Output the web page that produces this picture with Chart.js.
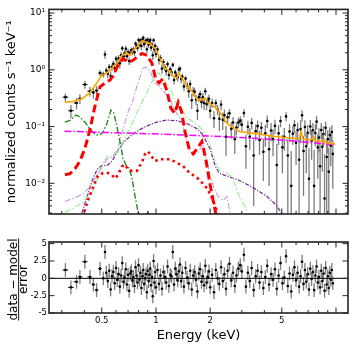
<!DOCTYPE html>
<html>
<head>
<meta charset="utf-8">
<script src="https://cdn.jsdelivr.net/npm/chart.js@4.4.1/dist/chart.umd.min.js"></script>
<style>
  html, body { margin: 0; padding: 0; background: #fff; }
  #wrap { position: relative; width: 355px; height: 351px; }
  #spec { position: absolute; left: 0; top: 0; }
  #resid { position: absolute; left: 0; top: 230px; }
</style>
</head>
<body>
<div id="wrap">
  <canvas id="spec" width="355" height="230"></canvas>
  <canvas id="resid" width="355" height="121"></canvas>
</div>
<script>
// observed spectrum (keV, counts/s/keV, 1-sigma) and residuals in sigma
const dataE = [0.314, 0.337, 0.362, 0.378, 0.403, 0.430, 0.449, 0.468, 0.489, 0.510, 0.521,
  0.53, 0.54, 0.55, 0.56, 0.57, 0.58, 0.59, 0.60, 0.61, 0.62, 0.63, 0.64, 0.65, 0.66, 0.67, 0.68,
  0.69, 0.70, 0.71, 0.72, 0.73, 0.74, 0.75, 0.76, 0.77, 0.78, 0.79, 0.80, 0.81, 0.82, 0.83, 0.84,
  0.85, 0.86, 0.87, 0.88, 0.89, 0.90, 0.91, 0.92, 0.93, 0.94, 0.95, 0.96, 0.97, 0.98, 0.99, 1.00,
  1.02, 1.04, 1.06, 1.08, 1.10, 1.12, 1.14, 1.16, 1.18, 1.20, 1.22, 1.24, 1.26, 1.28, 1.30, 1.32,
  1.34, 1.36, 1.38, 1.40, 1.43, 1.46, 1.49, 1.52, 1.55, 1.58, 1.61, 1.64, 1.67, 1.70, 1.73, 1.76,
  1.79, 1.82, 1.85, 1.88, 1.91, 1.94, 1.97, 2.00, 2.05, 2.10, 2.15, 2.20, 2.25, 2.30, 2.35, 2.40,
  2.45, 2.50, 2.56, 2.62, 2.68, 2.74, 2.80, 2.87, 2.94,
  3.00, 3.08, 3.16, 3.24, 3.32, 3.40, 3.49, 3.58, 3.67, 3.76, 3.85, 3.95, 4.05, 4.15, 4.25, 4.36,
  4.47, 4.58, 4.69, 4.80, 4.92, 5.04, 5.16, 5.28, 5.40, 5.52, 5.64, 5.76, 5.88, 6.00, 6.12, 6.24,
  6.36, 6.48, 6.60, 6.72, 6.84, 6.96, 7.08, 7.20, 7.32, 7.44, 7.56, 7.68, 7.80, 7.92, 8.04, 8.16,
  8.28, 8.40, 8.52, 8.64, 8.76, 8.88, 9.00, 9.12, 9.24, 9.36, 9.48, 9.60];
const dataV = [0.33, 0.19, 0.26, 0.31, 0.55, 0.42, 0.40, 0.43, 0.88, 0.83, 1.86,
  0.97, 0.85, 1.12, 0.78, 1.12, 1.28, 1.07, 1.56, 1.30, 1.59, 1.30, 1.81, 2.39, 1.72, 1.95, 2.35,
  1.73, 2.06, 1.43, 1.97, 2.22, 2.07, 2.30, 2.03, 2.90, 2.64, 2.42, 3.34, 2.80, 3.29, 2.62, 3.37,
  3.66, 2.83, 3.10, 3.28, 2.30, 3.37, 2.80, 3.08, 3.36, 2.46, 2.76, 1.80, 3.32, 2.29, 2.64, 1.90,
  2.30, 1.50, 1.61, 1.05, 1.37, 1.11, 0.95, 1.26, 0.81, 1.02, 0.90, 1.22, 0.66, 0.90, 0.78, 0.74,
  1.01, 1.04, 0.69, 0.76, 0.51, 0.70, 0.53, 0.42, 0.56, 0.29, 0.42, 0.41, 0.30, 0.19, 0.33, 0.37,
  0.27, 0.33, 0.26, 0.42, 0.25, 0.28, 0.31, 0.19, 0.26, 0.14, 0.26, 0.20, 0.137, 0.244, 0.132, 0.159,
  0.066, 0.146, 0.171, 0.091, 0.118, 0.060, 0.096, 0.118, 0.127,
  0.108, 0.173, 0.045, 0.099, 0.066, 0.116, 0.031, 0.083, 0.102, 0.058, 0.095, 0.036, 0.076, 0.125, 0.040, 0.085,
  0.060, 0.103, 0.021, 0.076, 0.125, 0.043, 0.066, 0.151, 0.031, 0.082, 0.009, 0.075, 0.105, 0.052, 0.087, 0.026,
  0.090, 0.158, 0.037, 0.098, 0.045, 0.078, 0.012, 0.100, 0.056, 0.086, 0.009, 0.077, 0.122, 0.043, 0.064, 0.020,
  0.087, 0.044, 0.074, 0.0054, 0.095, 0.029, 0.060, 0.016, 0.071, 0.046, 0.080, 0.033];
const dataErr = [0.054, 0.05, 0.06, 0.06, 0.088, 0.08, 0.09, 0.09, 0.11, 0.10, 0.30,
  0.13, 0.135, 0.144, 0.153, 0.16, 0.17, 0.18, 0.19, 0.20, 0.22, 0.24, 0.26, 0.27, 0.28, 0.29, 0.30,
  0.30, 0.29, 0.22, 0.22, 0.24, 0.26, 0.27, 0.28, 0.29, 0.30, 0.31, 0.33, 0.34, 0.36, 0.38, 0.39,
  0.38, 0.38, 0.37, 0.37, 0.36, 0.36, 0.35, 0.35, 0.35, 0.34, 0.32, 0.31, 0.31, 0.30, 0.29, 0.27,
  0.29, 0.26, 0.23, 0.20, 0.18, 0.16, 0.16, 0.15, 0.15, 0.14, 0.13, 0.12, 0.11, 0.11, 0.11, 0.12,
  0.13, 0.12, 0.11, 0.10, 0.09, 0.085, 0.078, 0.098, 0.092, 0.086, 0.078, 0.07, 0.062, 0.06, 0.058, 0.058,
  0.06, 0.062, 0.064, 0.062, 0.057, 0.053, 0.052, 0.05, 0.048, 0.046, 0.042, 0.04, 0.054, 0.05, 0.045, 0.04,
  0.036, 0.033, 0.032, 0.03, 0.029, 0.027, 0.026, 0.025, 0.024,
  0.028, 0.028, 0.027, 0.027, 0.027, 0.027, 0.027, 0.026, 0.026, 0.026, 0.025, 0.025, 0.032, 0.031, 0.031, 0.030,
  0.030, 0.029, 0.029, 0.029, 0.028, 0.028, 0.028, 0.028, 0.028, 0.028, 0.028, 0.027, 0.027, 0.031, 0.031, 0.033,
  0.039, 0.036, 0.031, 0.031, 0.030, 0.030, 0.030, 0.030, 0.030, 0.030, 0.030, 0.032, 0.033, 0.031, 0.029, 0.029,
  0.028, 0.028, 0.028, 0.027, 0.027, 0.027, 0.026, 0.026, 0.026, 0.026, 0.025, 0.025];
const residV = [1.2, -1.3, -0.5, 0.2, 2.4, 0.2, -0.9, -1.7, 1.4, 0.0, 3.8,
  0.8, -0.4, 1.1, -1.6, 0.3, 0.9, -0.7, 1.5, -0.2, 0.6, -1.2, 0.4, 2.2, -0.5, 0.1, 1.3,
  -0.9, 0.5, -1.8, 0.7, 1.0, -0.3, 0.2, -1.1, 1.6, 0.4, -0.6, 1.9, -0.2, 0.8, -1.4, 0.3,
  1.2, -0.8, 0.0, 0.6, -2.0, 1.1, -0.4, 0.5, 1.4, -1.0, 0.2, -2.6, 2.5, -0.6, 0.9, -1.3,
  1.2, -0.8, 0.4, -1.5, 0.9, 0.2, -0.6, 1.7, -1.1, 0.5, 0.3, 3.8, -0.9, 1.4, 0.6, -0.3,
  1.0, 2.0, -0.4, 0.8, -1.2, 1.5, 0.1, -0.7, 1.1, -1.6, 0.4, 0.9, -0.2, -1.9, 0.7, 1.3,
  -0.5, 0.3, -1.0, 1.8, -0.6, 0.2, 1.0, -1.3, 0.5, -2.0, 1.2, 0.0, -0.8, 1.6, -0.4, 0.6,
  -1.5, 1.1, 2.1, -0.3, 0.8, -1.1, 0.4, 1.4, 1.9,
  1.0, 3.4, -1.2, 0.8, -0.4, 1.5, -1.7, 0.3, 1.1, -0.6, 0.9, -1.4, 0.2, 1.8, -0.9, 0.6,
  -0.2, 1.3, -1.5, 0.4, 2.2, -0.7, 0.1, 3.2, -1.1, 0.7, -1.9, 0.5, 1.6, -0.3, 0.8, -1.2,
  0.3, 2.4, -0.8, 1.2, -0.5, 0.6, -1.6, 1.4, -0.1, 0.9, -1.7, 0.4, 1.7, -0.6, 0.2, -1.3,
  1.1, -0.4, 0.7, -1.8, 1.5, -0.9, 0.3, -1.4, 0.8, -0.2, 1.2, -0.7];

// model components
const totalE = [0.312, 0.346, 0.388, 0.43, 0.47, 0.5, 0.534, 0.57, 0.607, 0.647, 0.69, 0.717, 0.745, 0.794,
  0.836, 0.869, 0.926, 0.987, 1.05, 1.12, 1.2, 1.24, 1.31, 1.34, 1.41, 1.49, 1.58, 1.69, 1.75, 1.87, 1.94,
  2.07, 2.21, 2.36, 2.48, 2.64, 2.93, 3.64, 4.7, 5.5, 6.25, 6.4, 6.55, 7.35, 7.5, 7.65, 8.45, 8.6, 8.75, 9.87];
const totalV = [0.267, 0.277, 0.31, 0.396, 0.59, 0.80, 0.88, 1.07, 1.31, 1.79, 2.0, 1.79, 2.2, 2.65,
  3.25, 3.1, 2.9, 2.4, 1.6, 1.08, 0.95, 0.78, 0.72, 0.88, 0.66, 0.52, 0.43, 0.30, 0.29, 0.32, 0.267,
  0.237, 0.195, 0.148, 0.112, 0.10, 0.081, 0.075, 0.066, 0.063, 0.061, 0.082, 0.061, 0.058, 0.065, 0.057, 0.054, 0.059, 0.053, 0.049];
const redE = [0.312, 0.333, 0.355, 0.378, 0.403, 0.43, 0.458, 0.489, 0.521, 0.555, 0.577, 0.615, 0.656, 0.699,
  0.745, 0.794, 0.836, 0.891, 0.95, 1.0, 1.04, 1.09, 1.15, 1.21, 1.27, 1.33, 1.39, 1.45, 1.53, 1.61, 1.71,
  1.8, 1.9, 2.0, 2.1, 2.21];
const redV = [0.0142, 0.0148, 0.018, 0.0246, 0.041, 0.089, 0.228, 0.50, 0.59, 0.66, 0.78, 1.2, 1.58, 1.35,
  1.47, 1.72, 1.94, 1.79, 1.31, 0.66, 0.59, 0.69, 0.43, 0.21, 0.173, 0.267, 0.179, 0.081, 0.040, 0.033, 0.043,
  0.0545, 0.0246, 0.0093, 0.0042, 0.0019];
const dotE = [0.38, 0.398, 0.419, 0.447, 0.476, 0.508, 0.541, 0.570, 0.592, 0.615, 0.647, 0.673, 0.699, 0.735,
  0.784, 0.836, 0.869, 0.903, 0.938, 0.987, 1.05, 1.12, 1.2, 1.31, 1.41, 1.54, 1.69, 1.8, 1.92, 2.05, 2.18, 2.3];
const dotV = [0.002, 0.003, 0.005, 0.0085, 0.0136, 0.0152, 0.0152, 0.014, 0.0121, 0.014, 0.0198, 0.0214, 0.0176, 0.0166,
  0.0166, 0.0237, 0.0325, 0.0366, 0.031, 0.0246, 0.0266, 0.0266, 0.0266, 0.0228, 0.0203, 0.0152, 0.0126, 0.0103,
  0.0082, 0.0055, 0.0033, 0.0018];
const greenE = [0.312, 0.333, 0.36, 0.378, 0.403, 0.43, 0.458, 0.482, 0.508, 0.534, 0.562, 0.584, 0.607, 0.631,
  0.656, 0.681, 0.708, 0.735, 0.764, 0.794, 0.815, 0.86, 0.905, 0.95];
const greenV = [0.12, 0.129, 0.16, 0.148, 0.12, 0.091, 0.073, 0.070, 0.079, 0.113, 0.195, 0.173, 0.0995, 0.0545,
  0.0277, 0.021, 0.0187, 0.0126, 0.0061, 0.0032, 0.0019, 0.0012, 0.0032, 0.0012];
const ltGreenE = [0.312, 0.346, 0.393, 0.447, 0.489, 0.514, 0.541, 0.577, 0.615, 0.656, 0.699, 0.755, 0.815,
  0.891, 0.95, 0.987, 1.03, 1.08, 1.15, 1.23, 1.27, 1.33, 1.39, 1.47, 1.61, 1.75, 1.87, 2.0, 2.13, 2.27, 2.48,
  2.68, 2.85, 3.04, 3.25];
const ltGreenV = [0.0031, 0.0036, 0.0046, 0.0075, 0.0152, 0.0246, 0.030, 0.031, 0.0366, 0.0545, 0.081, 0.134, 0.226,
  0.396, 0.61, 0.81, 0.877, 0.75, 0.55, 0.396, 0.29, 0.22, 0.203, 0.148, 0.12, 0.099, 0.075, 0.049, 0.0246, 0.0166,
  0.0152, 0.0121, 0.0068, 0.0045, 0.0031];
const lilacE = [0.312, 0.346, 0.388, 0.43, 0.476, 0.508, 0.541, 0.577, 0.615, 0.656, 0.699, 0.745, 0.794, 0.847,
  0.891, 0.938, 0.987, 1.05, 1.12, 1.20, 1.26, 1.33, 1.39, 1.45, 1.53, 1.61, 1.71, 1.82, 1.92, 2.0, 2.10, 2.21,
  2.36, 2.48, 2.58];
const lilacV = [0.0048, 0.0054, 0.0063, 0.0086, 0.0146, 0.0216, 0.0273, 0.0296, 0.042, 0.0899, 0.179, 0.29, 0.59, 1.07,
  1.11, 0.877, 0.59, 0.50, 0.396, 0.30, 0.203, 0.153, 0.131, 0.072, 0.040, 0.032, 0.0344, 0.0495, 0.0246, 0.0130,
  0.0083, 0.0059, 0.0050, 0.0059, 0.0030];
const purpleE = [0.388, 0.414, 0.441, 0.471, 0.501, 0.534, 0.570, 0.607, 0.656, 0.717, 0.784, 0.847, 0.926, 1.01,
  1.15, 1.31, 1.49, 1.69, 1.82, 2.0, 2.13, 2.24, 2.48, 2.93, 3.46, 4.13, 4.7, 5.0];
const purpleV = [0.003, 0.0057, 0.011, 0.0176, 0.0206, 0.0206, 0.0246, 0.035, 0.052, 0.067, 0.082, 0.095, 0.108, 0.12,
  0.13, 0.127, 0.112, 0.092, 0.072, 0.040, 0.0206, 0.0152, 0.0134, 0.0111, 0.0084, 0.0059, 0.0040, 0.0029];
const plawE = [0.31, 0.5, 1.0, 2.0, 3.0, 5.0, 7.0, 9.8];
const plawV = [0.083, 0.079, 0.074, 0.068, 0.064, 0.058, 0.053, 0.048];

// axes
const xRange = [0.2546, 11.66];
const yRange = [0.00288, 11.6];
const rRange = [-5, 5.24];
const xMajor = [0.5, 1, 2, 5, 10];
const xMinor = [0.3, 0.4, 0.6, 0.7, 0.8, 0.9, 3, 4, 6, 7, 8, 9];
const xLabels = ['0.5', '1', '2', '5'];
const yMajor = [0.01, 0.1, 1, 10];
const yLabels = ['10\u207B\u00B2', '10\u207B\u00B9', '10\u2070', '10\u00B9'];
const rMajor = [-5, -2.5, 0, 2.5, 5];
const rLabels = ['-5', '-2.5', '0', '2.5', '5'];

Chart.defaults.font.family = "'DejaVu Sans', sans-serif";
Chart.defaults.color = '#000';

const yMinor = [];
[0.001, 0.01, 0.1, 1].forEach((d) => {
  for (let m = 2; m < 10; m++) yMinor.push(m * d);
});

function pts(xs, ys) {
  return xs.map((x, i) => ({ x: x, y: ys[i] }));
}

function binEdges(es) {
  return es.map((e, i) => {
    const prev = i > 0 ? es[i - 1] : e * e / es[i + 1];
    const next = i < es.length - 1 ? es[i + 1] : e * e / es[i - 1];
    return [Math.sqrt(prev * e), Math.sqrt(e * next)];
  });
}
const bins = binEdges(dataE);

function modelLine(xs, ys, color, width, dash) {
  return {
    data: pts(xs, ys), showLine: true, borderColor: color, borderWidth: width,
    borderDash: dash, borderCapStyle: 'butt', pointRadius: 0, tension: 0, order: 1
  };
}

function makeErrorBars(ys, errs) {
  return {
    id: 'errorBars',
    beforeDatasetsDraw(chart) {
      const { ctx, chartArea: a, scales: { x, y } } = chart;
      ctx.save();
      ctx.beginPath();
      ctx.rect(a.left, a.top, a.right - a.left, a.bottom - a.top);
      ctx.clip();
      dataE.forEach((e, i) => {
        const err = errs ? errs[i] : 1;
        const px = x.getPixelForValue(e);
        const py = y.getPixelForValue(ys[i]);
        const low = ys[i] - err;
        const yLo = (y.type === 'logarithmic' && low <= 0) ? a.bottom : y.getPixelForValue(low);
        const yHi = y.getPixelForValue(ys[i] + err);
        ctx.strokeStyle = '#7d7d7d';
        ctx.lineWidth = 1.3;
        ctx.beginPath();
        ctx.moveTo(px, yLo);
        ctx.lineTo(px, yHi);
        ctx.stroke();
        ctx.strokeStyle = '#000';
        ctx.lineWidth = 1;
        ctx.beginPath();
        ctx.moveTo(x.getPixelForValue(bins[i][0]), py);
        ctx.lineTo(x.getPixelForValue(bins[i][1]), py);
        ctx.stroke();
      });
      ctx.restore();
    }
  };
}

// inward ticks on all four sides plus the box
function makeFrame(yMaj, yMin) {
  return {
    id: 'frame',
    afterDraw(chart) {
      const { ctx, chartArea: a, scales: { x, y } } = chart;
      ctx.save();
      ctx.strokeStyle = '#222';
      ctx.lineWidth = 1;
      const xt = (vals, len) => vals.forEach((v) => {
        const p = x.getPixelForValue(v);
        if (p < a.left || p > a.right) return;
        ctx.beginPath();
        ctx.moveTo(p, a.bottom); ctx.lineTo(p, a.bottom - len);
        ctx.moveTo(p, a.top); ctx.lineTo(p, a.top + len);
        ctx.stroke();
      });
      const yt = (vals, len) => vals.forEach((v) => {
        const p = y.getPixelForValue(v);
        if (p < a.top || p > a.bottom) return;
        ctx.beginPath();
        ctx.moveTo(a.left, p); ctx.lineTo(a.left + len, p);
        ctx.moveTo(a.right, p); ctx.lineTo(a.right - len, p);
        ctx.stroke();
      });
      xt(xMajor, 5.5);
      xt(xMinor, 3);
      yt(yMaj, 5.5);
      yt(yMin, 3);
      ctx.lineWidth = 1.6;
      ctx.strokeRect(a.left, a.top, a.right - a.left, a.bottom - a.top);
      ctx.restore();
    }
  };
}

// stacked fraction for the residual axis title
const fracTitle = {
  id: 'fracTitle',
  afterDraw(chart) {
    const { ctx, chartArea: a } = chart;
    const cy = (a.top + a.bottom) / 2 + 2;
    ctx.save();
    ctx.translate(0, cy);
    ctx.rotate(-Math.PI / 2);
    ctx.fillStyle = '#000';
    ctx.font = "12px 'DejaVu Sans'";
    ctx.textAlign = 'center';
    ctx.textBaseline = 'alphabetic';
    const num = 'data \u2212 model';
    const w = ctx.measureText(num).width;
    ctx.fillText(num, 0, 16.5);
    ctx.fillText('error', 0, 27);
    ctx.fillRect(-w / 2, 18.2, w, 0.9);
    ctx.restore();
  }
};

new Chart(document.getElementById('spec'), {
  type: 'scatter',
  data: {
    datasets: [
      modelLine(totalE, totalV, '#ffa500', 1.6, []),
      modelLine(redE, redV, '#ff0000', 3, [8, 4]),
      modelLine(dotE, dotV, '#ff0000', 2.6, [2.5, 3.5]),
      modelLine(plawE, plawV, '#ff00ff', 1.5, [7, 2, 1.5, 2]),
      modelLine(greenE, greenV, '#228b22', 1.4, [6, 2, 1.5, 2]),
      modelLine(ltGreenE, ltGreenV, '#90ee90', 1.1, [6, 2, 1.5, 2]),
      modelLine(lilacE, lilacV, '#c39bd3', 1.1, [6, 2, 1.5, 2]),
      modelLine(purpleE, purpleV, '#7b3294', 1.3, [4, 1.5, 1.2, 1.5]),
      { data: pts(dataE, dataV), pointRadius: 1.3, pointBackgroundColor: '#000', pointBorderWidth: 0, order: 5 }
    ]
  },
  options: {
    responsive: false,
    animation: false,
    events: [],
    layout: { padding: { left: 0, right: 7, top: 5, bottom: 16 } },
    plugins: { legend: { display: false }, tooltip: { enabled: false } },
    scales: {
      x: { type: 'logarithmic', min: xRange[0], max: xRange[1], display: false },
      y: {
        type: 'logarithmic', min: yRange[0], max: yRange[1],
        grid: { display: false, drawTicks: false }, border: { display: false },
        afterBuildTicks: (s) => { s.ticks = yMajor.map((v) => ({ value: v })); },
        afterFit: (s) => { s.width = 49; },
        ticks: { padding: 4, font: { size: 9 }, callback: (v, i) => yLabels[i] },
        title: { display: true, text: 'normalized counts s\u207B\u00B9 keV\u207B\u00B9', font: { size: 13 }, padding: { top: 4, bottom: 0 } }
      }
    }
  },
  plugins: [makeErrorBars(dataV, dataErr), makeFrame(yMajor, yMinor)]
});

new Chart(document.getElementById('resid'), {
  type: 'scatter',
  data: {
    datasets: [
      { data: [{ x: xRange[0], y: 0 }, { x: xRange[1], y: 0 }], showLine: true, borderColor: '#000', borderWidth: 1, pointRadius: 0, order: 1 },
      { data: pts(dataE, residV), pointRadius: 1.3, pointBackgroundColor: '#000', pointBorderWidth: 0, order: 5 }
    ]
  },
  options: {
    responsive: false,
    animation: false,
    events: [],
    layout: { padding: { left: 0, right: 7, top: 12, bottom: 0 } },
    plugins: { legend: { display: false }, tooltip: { enabled: false } },
    scales: {
      x: {
        type: 'logarithmic', min: xRange[0], max: xRange[1],
        grid: { display: false, drawTicks: false }, border: { display: false },
        afterBuildTicks: (s) => { s.ticks = [0.5, 1, 2, 5].map((v) => ({ value: v })); },
        afterFit: (s) => { s.height = 38; },
        ticks: { padding: 3, autoSkip: false, maxRotation: 0, font: { size: 8.5 }, callback: (v, i) => xLabels[i] },
        title: { display: true, text: 'Energy (keV)', font: { size: 13 }, padding: { top: 0, bottom: 8 } }
      },
      y: {
        min: rRange[0], max: rRange[1],
        grid: { display: false, drawTicks: false }, border: { display: false },
        afterBuildTicks: (s) => { s.ticks = rMajor.map((v) => ({ value: v })); },
        afterFit: (s) => { s.width = 49; },
        ticks: { padding: 2, font: { size: 8.5 }, callback: (v, i) => rLabels[i] }
      }
    }
  },
  plugins: [makeErrorBars(residV, null), makeFrame(rMajor, []), fracTitle]
});
</script>
</body>
</html>
